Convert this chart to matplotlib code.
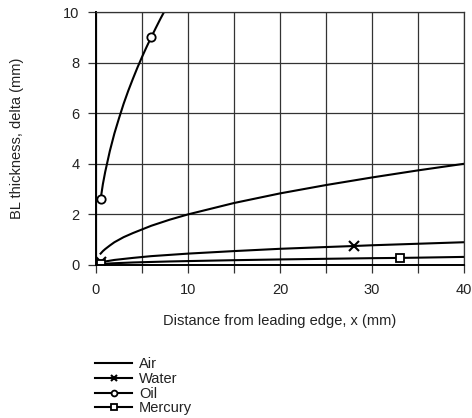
import numpy as np
import matplotlib
matplotlib.use("Agg")
import matplotlib.pyplot as plt

plt.rcParams['font.family'] = ['Liberation Sans', 'DejaVu Sans']

# =============================================================================
# Data (x in mm, delta in mm)
# =============================================================================

x_air = [0.5, 0.75, 1, 1.5, 2, 3, 4, 6, 8, 10, 15, 20, 25, 30, 35, 40]
d_air = [0.45, 0.55, 0.63, 0.77, 0.9, 1.1, 1.26, 1.55, 1.79, 2.0, 2.45, 2.83,
         3.16, 3.46, 3.74, 4.0]

x_water = [0.5, 1, 2, 4, 6, 8, 10, 15, 20, 25, 28, 30, 35, 40]
d_water = [0.1, 0.14, 0.2, 0.28, 0.35, 0.4, 0.45, 0.55, 0.64, 0.71, 0.75, 0.78, 0.84, 0.9]

x_oil = [0.5, 0.75, 1, 1.5, 2, 2.5, 3, 3.5, 4, 4.5, 5, 5.5, 6, 6.5, 7, 7.5, 8]
d_oil = [2.6, 3.2, 3.68, 4.5, 5.2, 5.8, 6.37, 6.88, 7.35, 7.8, 8.22, 8.62, 9.0,
         9.37, 9.73, 10.07, 10.4]

x_hg = [0.5, 1, 2, 4, 6, 8, 10, 15, 20, 25, 30, 33, 35, 40]
d_hg = [0.035, 0.05, 0.07, 0.1, 0.12, 0.14, 0.155, 0.19, 0.22, 0.245, 0.27, 0.28, 0.29, 0.32]

txt = '#222222'

fig = plt.figure(figsize=(4.72, 4.18), dpi=100)
ax = fig.add_axes([96/472, 1 - 265/418, 368/472, 253/418])

ax.plot(x_air, d_air, color='black', lw=1.5, label='Air')
ax.plot(x_water, d_water, color='black', lw=1.5, marker='x', ms=7, mew=1.5,
        markevery=[0, 10], label='Water')
ax.plot(x_oil, d_oil, color='black', lw=1.5, marker='o', ms=6, mfc='white',
        mew=1.3, markevery=[0, 12], label='Oil')
ax.plot(x_hg, d_hg, color='black', lw=1.5, marker='s', ms=6, mfc='white',
        mew=1.3, markevery=[0, 11], label='Mercury')

ax.set_xlim(0, 40)
ax.set_ylim(0, 10)
ax.set_xticks(np.arange(0, 41, 5))
ax.set_xticklabels(['0', '', '10', '', '20', '', '30', '', '40'])
ax.set_yticks(np.arange(0, 11, 2))
ax.grid(True, color='#333333', lw=0.9)
ax.set_axisbelow(True)

for s in ['top', 'right']:
    ax.spines[s].set_color('#333333')
    ax.spines[s].set_linewidth(0.9)
for s in ['left', 'bottom']:
    ax.spines[s].set_color('black')
    ax.spines[s].set_linewidth(1.4)

ax.tick_params(direction='out', length=6, width=0.9, color='#333333',
               labelsize=10.5, labelcolor=txt)
ax.tick_params(axis='x', pad=7)
ax.tick_params(axis='y', pad=6)

ax.set_xlabel('Distance from leading edge, x (mm)', fontsize=10.5, color=txt,
              labelpad=12)
ax.set_ylabel('BL thickness, delta (mm)', fontsize=10.5, color=txt,
              labelpad=28)

fig.legend(loc='upper left', bbox_to_anchor=(88/472, 1 - 350/418),
           frameon=False, fontsize=10.5, handlelength=2.5, handletextpad=0.5,
           labelspacing=0.05, borderpad=0, labelcolor=txt, markerscale=0.7)

fig.savefig('out.png', dpi=100)
